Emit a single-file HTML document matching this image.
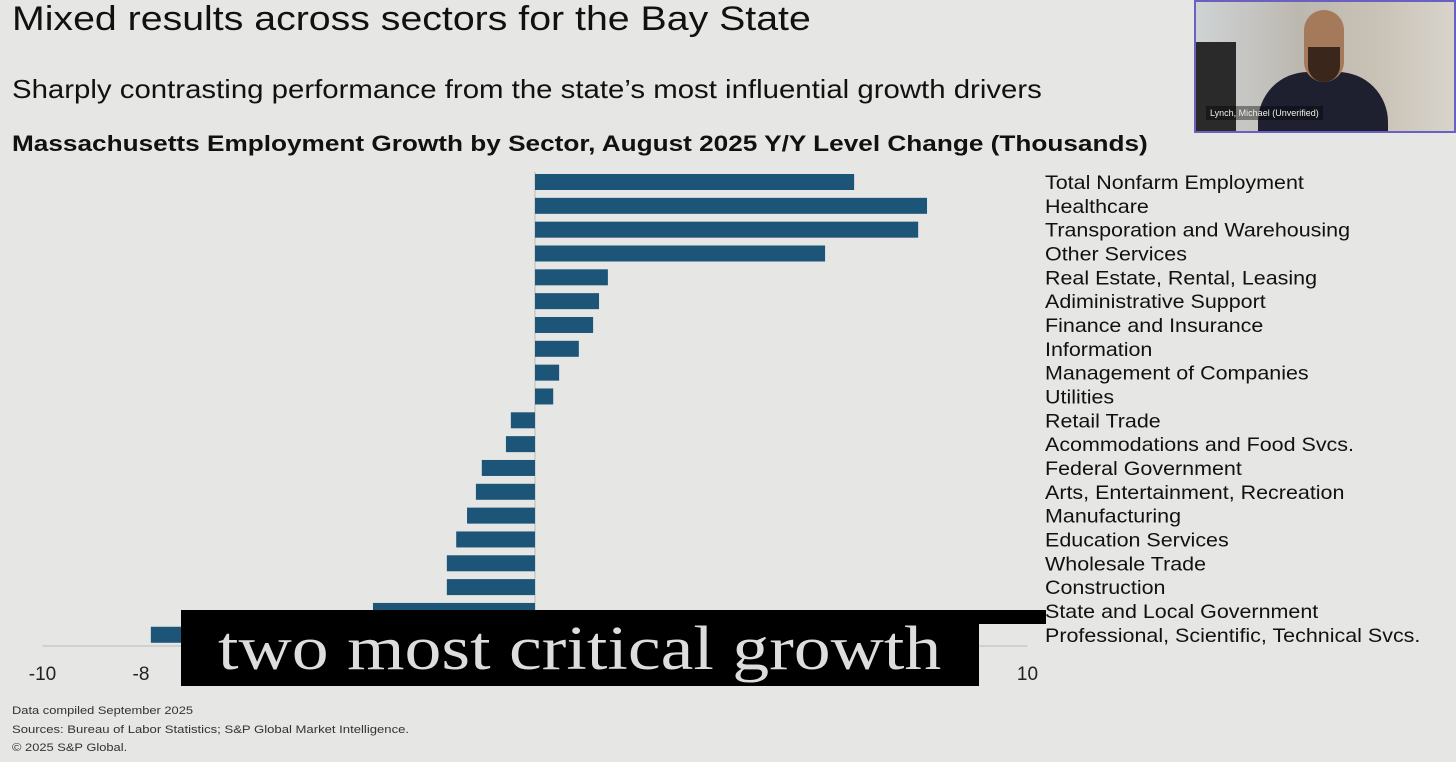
<!DOCTYPE html>
<html><head><meta charset="utf-8"><style>
body{margin:0;width:1456px;height:762px;background:#e6e6e4;overflow:hidden;font-family:"Liberation Sans",sans-serif;position:relative}
.t{position:absolute;white-space:nowrap;color:#111;transform-origin:0 0}
</style></head><body>
<div class="t" style="left:12px;top:0px;font-size:34px;transform:scaleX(1.155)">Mixed results across sectors for the Bay State</div>
<div class="t" style="left:12px;top:74px;font-size:26px;transform:scaleX(1.13)">Sharply contrasting performance from the state’s most influential growth drivers</div>
<div class="t" style="left:12px;top:131px;font-size:22px;font-weight:bold;transform:scaleX(1.19)">Massachusetts Employment Growth by Sector, August 2025 Y/Y Level Change (Thousands)</div>
<svg id="chart" width="1456" height="762" style="position:absolute;left:0;top:0"></svg>
<div class="t" style="left:12px;top:705px;font-size:11px;color:#333;transform:scaleX(1.17)">Data compiled September 2025</div>
<div class="t" style="left:12px;top:724px;font-size:11px;color:#333;transform:scaleX(1.19)">Sources: Bureau of Labor Statistics; S&amp;P Global Market Intelligence.</div>
<div class="t" style="left:12px;top:742px;font-size:11px;color:#333;transform:scaleX(1.17)">© 2025 S&amp;P Global.</div>
<div style="position:absolute;left:181px;top:610px;width:865px;height:14px;background:#000"></div>
<div style="position:absolute;left:181px;top:610px;width:798px;height:76px;background:#000;overflow:hidden">
<div class="t" style="left:37px;top:8px;color:#ddd;font-family:'Liberation Serif',serif;font-size:62px;line-height:62px;transform:scaleX(1.19)">two most critical growth</div>
</div>
<div style="position:absolute;left:1194px;top:0;width:258px;height:129px;border:2px solid #6a60c0;background:linear-gradient(90deg,#cfd3d4 0%,#bcb8b0 40%,#c9c2b6 70%,#d8d4cc 100%);overflow:hidden">
<div style="position:absolute;left:0;top:40px;width:40px;height:89px;background:#2a2a2a"></div>
<div style="position:absolute;left:62px;top:70px;width:130px;height:70px;background:#1e2030;border-radius:50px 50px 0 0"></div>
<div style="position:absolute;left:108px;top:8px;width:40px;height:72px;background:#a47a5a;border-radius:20px"></div>
<div style="position:absolute;left:112px;top:45px;width:32px;height:35px;background:#3a261a;border-radius:0 0 16px 16px"></div>
<div style="position:absolute;left:10px;top:104px;font-size:9px;color:#eee;background:rgba(0,0,0,.4);padding:2px 4px">Lynch, Michael (Unverified)</div>
</div>
<script>
const categories=["Total Nonfarm Employment","Healthcare","Transporation and Warehousing","Other Services","Real Estate, Rental, Leasing","Adiministrative Support","Finance and Insurance","Information","Management of Companies","Utilities","Retail Trade","Acommodations and Food Svcs.","Federal Government","Arts, Entertainment, Recreation","Manufacturing","Education Services","Wholesale Trade","Construction","State and Local Government","Professional, Scientific, Technical Svcs."];
const values=[6.48,7.96,7.78,5.89,1.48,1.30,1.18,0.89,0.49,0.37,-0.49,-0.59,-1.08,-1.20,-1.38,-1.60,-1.79,-1.79,-3.29,-7.80];
const ticks=[-10,-8,-6,-4,-2,0,2,4,6,8,10];
const tickLabels=["-10","-8","-6","-4","-2","0","2","4","6","8","10"];
const svg=document.getElementById('chart');const NS='http://www.w3.org/2000/svg';
const x=v=>535+v*49.25;const y=i=>182+i*23.83;
function mk(t,a){const e=document.createElementNS(NS,t);for(const k in a)e.setAttribute(k,a[k]);svg.appendChild(e);return e;}
const ax=mk('line',{x1:x(-10),x2:x(10),y1:646,y2:646,stroke:'#c8c8c8','stroke-width':1.5});


const zl=mk('line',{x1:x(0),x2:x(0),y1:172,y2:646,stroke:'#bbb','stroke-width':1});


ticks.forEach((t,i)=>{const e=mk('text',{x:x(t),y:680,'text-anchor':'middle','font-size':19,fill:'#222','font-family':'Liberation Sans'});e.textContent=tickLabels[i];

});
values.forEach((v,i)=>{const r=mk('rect',{x:Math.min(x(0),x(v)),y:y(i)-8,width:Math.abs(x(v)-x(0)),height:16,fill:'#1d5578'});


const t=mk('text',{x:0,y:0,transform:'translate(1045,'+(y(i)+7)+') scale(1.13,1)','font-size':19,fill:'#111','font-family':'Liberation Sans'});t.textContent=categories[i];

});
</script>
</body></html>
